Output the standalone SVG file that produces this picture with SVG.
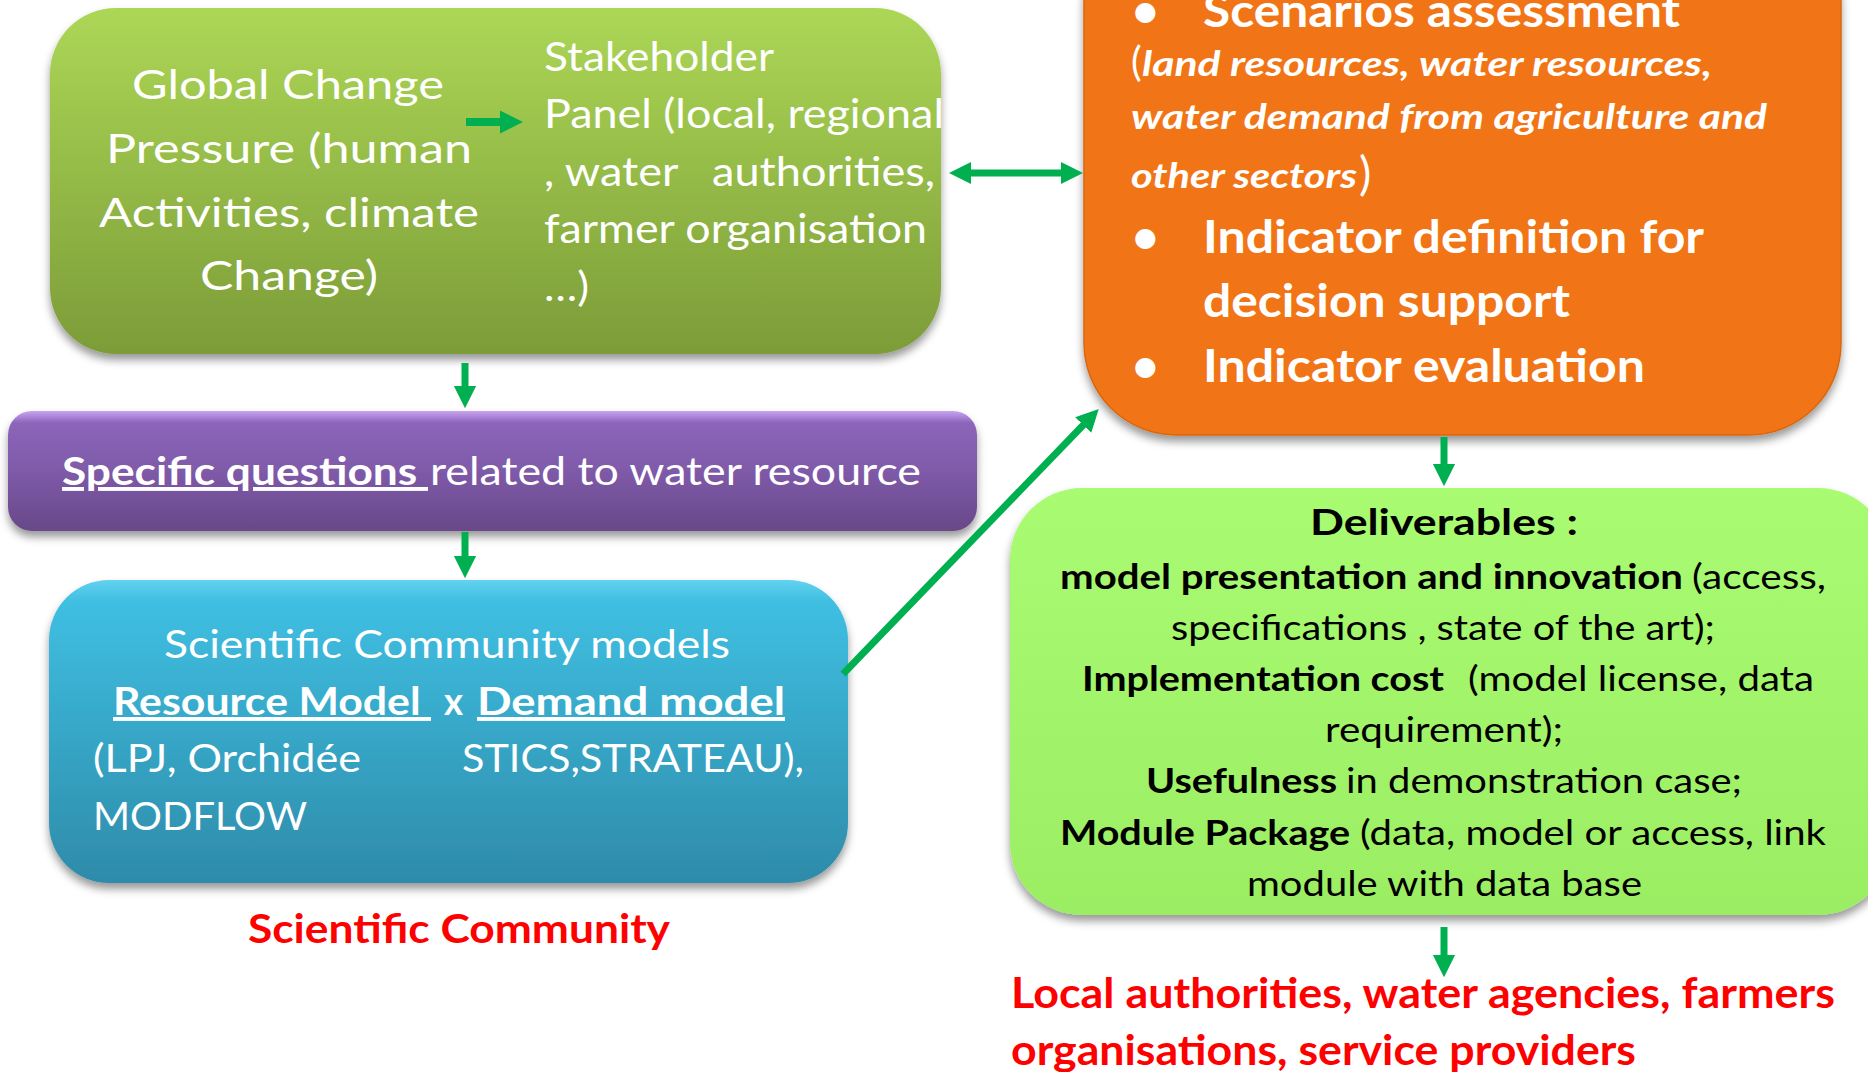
<svg xmlns="http://www.w3.org/2000/svg" width="1868" height="1072" viewBox="0 0 1868 1072">
<defs>
<style>
.t{font-family:Lato,"Open Sans","Liberation Sans",sans-serif;}
.w{fill:#ffffff;}
.k{fill:#000000;}
.r{fill:#ff0000;font-weight:bold;}
.b{font-weight:bold;}
.i{font-style:italic;}
.u{text-decoration:underline;}
.con{stroke:#00b050;fill:none;stroke-width:7;}
</style>
<filter id="sh" x="-10%" y="-10%" width="120%" height="130%"><feDropShadow dx="0" dy="6" stdDeviation="4" flood-color="#000" flood-opacity="0.4"/></filter>
<linearGradient id="gGreen" x1="0" y1="0" x2="0" y2="1"><stop offset="0" stop-color="#acd756"/><stop offset="1" stop-color="#7c9c38"/></linearGradient>
<linearGradient id="gPurple" x1="0" y1="0" x2="0" y2="1"><stop offset="0" stop-color="#c9a3f2"/><stop offset="0.1" stop-color="#8c65ba"/><stop offset="0.5" stop-color="#7f5aa9"/><stop offset="1" stop-color="#684888"/></linearGradient>
<linearGradient id="gBlue" x1="0" y1="0" x2="0" y2="1"><stop offset="0" stop-color="#62d2f0"/><stop offset="0.07" stop-color="#3fbfe2"/><stop offset="1" stop-color="#2e8ba9"/></linearGradient>
<linearGradient id="gLight" x1="0" y1="0" x2="0" y2="1"><stop offset="0" stop-color="#a9fb72"/><stop offset="1" stop-color="#9bee63"/></linearGradient>
<marker id="ah" viewBox="0 0 10 10" refX="5" refY="5" markerWidth="3.2" markerHeight="3.3" orient="auto-start-reverse" markerUnits="strokeWidth"><path d="M0,0 L10,5 L0,10 Z" fill="#00b050"/></marker>
</defs>

<g id="node-global-change">
<rect x="50" y="8" width="891" height="346" rx="66" ry="66" fill="url(#gGreen)" filter="url(#sh)"/>
<text class="t w" font-size="40" x="132" y="99" textLength="312" lengthAdjust="spacingAndGlyphs">Global Change</text>
<text class="t w" font-size="40" x="106" y="163" textLength="366" lengthAdjust="spacingAndGlyphs">Pressure (human</text>
<text class="t w" font-size="40" x="99" y="227" textLength="380" lengthAdjust="spacingAndGlyphs">Activities, climate</text>
<text class="t w" font-size="40" x="200" y="290" textLength="178" lengthAdjust="spacingAndGlyphs">Change)</text>
<text class="t w" font-size="40" x="544" y="71" textLength="230" lengthAdjust="spacingAndGlyphs">Stakeholder</text>
<text class="t w" font-size="40" x="544" y="128" textLength="400" lengthAdjust="spacingAndGlyphs">Panel (local, regional</text>
<text class="t w" font-size="40" x="544" y="186" textLength="391" lengthAdjust="spacingAndGlyphs">, water&#160;&#160;&#160;authorities,</text>
<text class="t w" font-size="40" x="544" y="243" textLength="383" lengthAdjust="spacingAndGlyphs">farmer organisation</text>
<text class="t w" font-size="40" x="544" y="301" textLength="45" lengthAdjust="spacingAndGlyphs">…)</text>
</g>

<g id="node-scenarios">
<rect x="1084" y="-90" width="757" height="525" rx="92" ry="92" fill="#f17517" stroke="#d8680f" stroke-width="1.5" filter="url(#sh)"/>
<text class="t w b" font-size="46" x="1132" y="27">•</text>
<text class="t w b" font-size="46" x="1203" y="27" textLength="477" lengthAdjust="spacingAndGlyphs">Scenarios assessment</text>
<text class="t w" font-size="40" x="1131" y="76">(</text>
<text class="t w b i" font-size="35" x="1142" y="76" textLength="570" lengthAdjust="spacingAndGlyphs">land resources, water resources,</text>
<text class="t w b i" font-size="35" x="1131" y="129" textLength="636" lengthAdjust="spacingAndGlyphs">water demand from agriculture and</text>
<text class="t w b i" font-size="35" x="1131" y="188" textLength="226" lengthAdjust="spacingAndGlyphs">other sectors</text>
<text class="t w" font-size="46" x="1359" y="190">)</text>
<text class="t w b" font-size="46" x="1132" y="253">•</text>
<text class="t w b" font-size="46" x="1203" y="253" textLength="501" lengthAdjust="spacingAndGlyphs">Indicator definition for</text>
<text class="t w b" font-size="46" x="1203" y="317" textLength="367" lengthAdjust="spacingAndGlyphs">decision support</text>
<text class="t w b" font-size="46" x="1132" y="382">•</text>
<text class="t w b" font-size="46" x="1203" y="382" textLength="442" lengthAdjust="spacingAndGlyphs">Indicator evaluation</text>
</g>

<g id="node-specific-questions">
<rect x="8" y="411" width="969" height="120" rx="24" ry="24" fill="url(#gPurple)" filter="url(#sh)"/>
<text class="t w b u" font-size="39" x="62" y="485" textLength="366" lengthAdjust="spacingAndGlyphs">Specific questions&#160;</text>
<text class="t w" font-size="39" x="430" y="485" textLength="491" lengthAdjust="spacingAndGlyphs">related to water resource</text>
</g>

<g id="node-models">
<rect x="49" y="580" width="799" height="303" rx="60" ry="60" fill="url(#gBlue)" filter="url(#sh)"/>
<text class="t w" font-size="39" x="164" y="658" textLength="566" lengthAdjust="spacingAndGlyphs">Scientific Community models</text>
<text class="t w b u" font-size="39" x="113" y="715" textLength="318" lengthAdjust="spacingAndGlyphs">Resource Model&#160;</text>
<text class="t w b" font-size="39" x="444" y="715" textLength="19" lengthAdjust="spacingAndGlyphs">x</text>
<text class="t w b u" font-size="39" x="477" y="715" textLength="308" lengthAdjust="spacingAndGlyphs">Demand model</text>
<text class="t w" font-size="39" x="93" y="772" textLength="268" lengthAdjust="spacingAndGlyphs">(LPJ, Orchidée</text>
<text class="t w" font-size="39" x="462" y="772" textLength="342" lengthAdjust="spacingAndGlyphs">STICS,STRATEAU),</text>
<text class="t w" font-size="39" x="93" y="830" textLength="214" lengthAdjust="spacingAndGlyphs">MODFLOW</text>
</g>

<g id="label-scientific-community">
<text class="t r" font-size="41" x="248" y="943" textLength="422" lengthAdjust="spacingAndGlyphs">Scientific Community</text>
</g>

<g id="node-deliverables">
<rect x="1010" y="488" width="880" height="427" rx="72" ry="72" fill="url(#gLight)" filter="url(#sh)"/>
<text class="t k b" font-size="37" x="1310" y="535" textLength="268" lengthAdjust="spacingAndGlyphs">Deliverables :</text>
<text class="t k b" font-size="35" x="1060" y="589" textLength="623" lengthAdjust="spacingAndGlyphs">model presentation and innovation</text>
<text class="t k" font-size="35" x="1692" y="589" textLength="134" lengthAdjust="spacingAndGlyphs">(access,</text>
<text class="t k" font-size="35" x="1171" y="640" textLength="544" lengthAdjust="spacingAndGlyphs">specifications , state of the art);</text>
<text class="t k b" font-size="35" x="1082" y="691" textLength="362" lengthAdjust="spacingAndGlyphs">Implementation cost</text>
<text class="t k" font-size="35" x="1468" y="691" textLength="346" lengthAdjust="spacingAndGlyphs">(model license, data</text>
<text class="t k" font-size="35" x="1325" y="742" textLength="238" lengthAdjust="spacingAndGlyphs">requirement);</text>
<text class="t k b" font-size="35" x="1146" y="793" textLength="191" lengthAdjust="spacingAndGlyphs">Usefulness</text>
<text class="t k" font-size="35" x="1346" y="793" textLength="396" lengthAdjust="spacingAndGlyphs">in demonstration case;</text>
<text class="t k b" font-size="35" x="1060" y="845" textLength="290" lengthAdjust="spacingAndGlyphs">Module Package</text>
<text class="t k" font-size="35" x="1360" y="845" textLength="466" lengthAdjust="spacingAndGlyphs">(data, model or access, link</text>
<text class="t k" font-size="35" x="1247" y="896" textLength="395" lengthAdjust="spacingAndGlyphs">module with data base</text>
</g>

<g id="label-local-authorities">
<text class="t r" font-size="42" x="1011" y="1008" textLength="824" lengthAdjust="spacingAndGlyphs">Local authorities, water agencies, farmers</text>
<text class="t r" font-size="42" x="1011" y="1065" textLength="625" lengthAdjust="spacingAndGlyphs">organisations, service providers</text>
</g>

<g id="connectors">
<polygon points="466,118 500,118 500,110.5 523,122 500,133.5 500,126 466,126" fill="#00b050"/>
<line class="con" x1="960" y1="173" x2="1072" y2="173" marker-start="url(#ah)" marker-end="url(#ah)"/>
<line class="con" x1="465" y1="363" x2="465" y2="397" marker-end="url(#ah)"/>
<line class="con" x1="465" y1="532" x2="465" y2="567" marker-end="url(#ah)"/>
<line class="con" x1="843" y1="674" x2="1091" y2="417" marker-end="url(#ah)"/>
<line class="con" x1="1444" y1="437" x2="1444" y2="475" marker-end="url(#ah)"/>
<line class="con" x1="1444" y1="927" x2="1444" y2="966" marker-end="url(#ah)"/>
</g>
</svg>
